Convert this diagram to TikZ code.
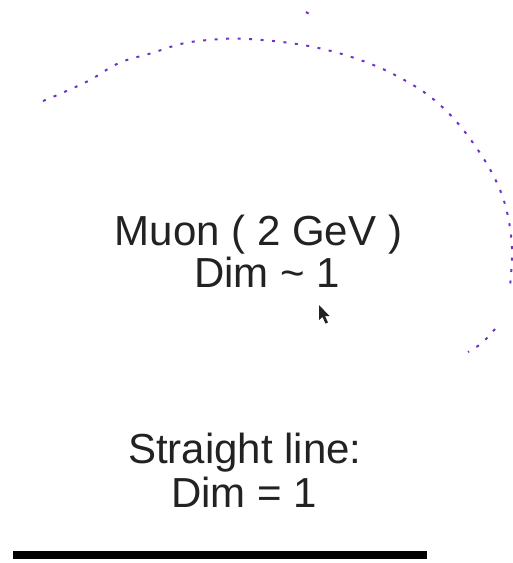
\documentclass[tikz,border=0pt]{standalone}
\usepackage{fontspec}
\setmainfont{Liberation Sans}
\definecolor{trackviolet}{RGB}{112,50,200}
\definecolor{labelgray}{RGB}{34,34,34}
\tikzset{
  track/.style={trackviolet, line width=2pt, dash pattern=on 3pt off 8.5pt},
  biglabel/.style={font=\fontsize{42}{42}\selectfont, text=labelgray, inner sep=0pt, align=center},
}
\begin{document}
\begin{tikzpicture}[x=1pt, y=-1pt]
\useasboundingbox (0,0) rectangle (513,563);
% curling muon track
\draw[track] plot[smooth, tension=0.6] coordinates {(43,101) (62,93) (90,80) (119,63) (152,53) (185,43) (222,39) (248,39) (290,43) (327,50) (363,61) (395,75) (428,95) (455,120) (480,153) (497,183) (507,212) (512,248) (510,287)};
\draw[track] plot[smooth] coordinates {(495,329) (482,343) (468,352)};
\draw[track] (306,12) -- (314,17);
\node[biglabel, anchor=base] (muon) at (258.5,245) {Muon ( 2 GeV )};
\node[biglabel, anchor=base] (muondim) at (267,287) {Dim \textasciitilde{} 1};
% mouse pointer
\fill[labelgray] (319,305) -- (319,320) -- (322.5,317) -- (325.5,323.5) -- (328,322.5) -- (325,316) -- (329.5,316) -- cycle;
\node[biglabel, anchor=base] (straight) at (245,463) {Straight line:};
\node[biglabel, anchor=base] (straightdim) at (244,507) {Dim = 1};
\coordinate (lineL) at (13,555);
\coordinate (lineR) at (427,555);
\draw[line width=8pt, black] (lineL) -- (lineR);
\end{tikzpicture}
\end{document}
